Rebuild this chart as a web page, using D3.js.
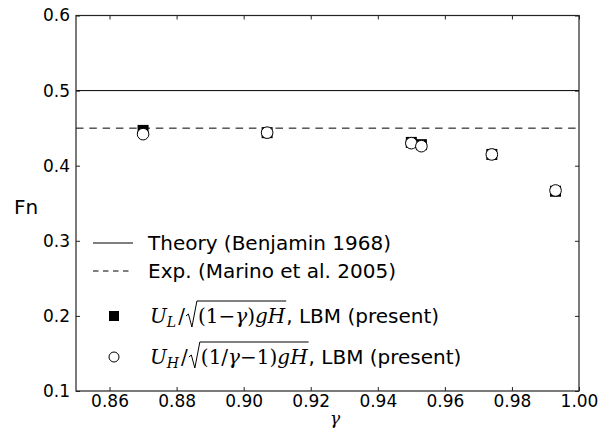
<!DOCTYPE html>
<html><head><meta charset="utf-8">
<script src="https://cdn.jsdelivr.net/npm/d3@7"></script>
<style>
html,body{margin:0;padding:0;background:#fff;}
svg{display:block;}
</style></head>
<body>
<svg id="chart" width="612" height="430"></svg>
<script>
const gamma = [0.870, 0.907, 0.950, 0.953, 0.974, 0.993];
const fnL   = [0.447, 0.444, 0.431, 0.428, 0.415, 0.366];
const fnH   = [0.442, 0.444, 0.430, 0.426, 0.415, 0.367];
const theoryFn = 0.5;
const expFn = 0.45;
const xTicks = [0.86, 0.88, 0.90, 0.92, 0.94, 0.96, 0.98, 1.00];
const yTicks = [0.1, 0.2, 0.3, 0.4, 0.5, 0.6];
const xDomain = [0.85, 1.00];
const yDomain = [0.1, 0.6];

const svg = d3.select("#chart");
const m = {left: 76, top: 15.5, right: 33, bottom: 39};
const W = 612 - m.left - m.right, H = 430 - m.top - m.bottom;
const g = svg.append("g").attr("transform", `translate(${m.left},${m.top})`);
const x = d3.scaleLinear().domain(xDomain).range([0, W]);
const y = d3.scaleLinear().domain(yDomain).range([H, 0]);

const tickFont = "DejaVu Sans, sans-serif";
function styleAxis(sel, labels) {
  sel.select(".domain").remove();
  sel.selectAll(".tick line").attr("stroke", "#222").attr("stroke-width", 1);
  sel.selectAll(".tick text").attr("font-family", tickFont).attr("font-size", 17).attr("fill", "#000");
  if (!labels) sel.selectAll(".tick text").remove();
}
g.append("g").attr("transform", `translate(0,${H})`)
  .call(d3.axisBottom(x).tickValues(xTicks).tickFormat(d3.format(".2f")).tickSizeInner(-4).tickSizeOuter(0).tickPadding(4))
  .call(s => styleAxis(s, true));
g.append("g")
  .call(d3.axisTop(x).tickValues(xTicks).tickSizeInner(-4).tickSizeOuter(0))
  .call(s => styleAxis(s, false));
g.append("g")
  .call(d3.axisLeft(y).tickValues(yTicks).tickFormat(d3.format(".1f")).tickSizeInner(-4).tickSizeOuter(0).tickPadding(6))
  .call(s => styleAxis(s, true));
g.append("g").attr("transform", `translate(${W},0)`)
  .call(d3.axisRight(y).tickValues(yTicks).tickSizeInner(-4).tickSizeOuter(0))
  .call(s => styleAxis(s, false));

// reference lines
g.append("line").attr("x1", 0).attr("x2", W).attr("y1", y(theoryFn)).attr("y2", y(theoryFn))
  .attr("stroke", "#000").attr("stroke-width", 1);
g.append("line").attr("x1", 0).attr("x2", W).attr("y1", y(expFn)).attr("y2", y(expFn))
  .attr("stroke", "#000").attr("stroke-width", 1).attr("stroke-dasharray", "7.5,5.8");

// markers
const sq = 11, cr = 5.8;
g.selectAll("rect.sq").data(gamma).join("rect").attr("class", "sq")
  .attr("x", (d) => x(d) - sq/2).attr("y", (d, i) => y(fnL[i]) - sq/2)
  .attr("width", sq).attr("height", sq).attr("fill", "#000");
g.selectAll("circle.cr").data(gamma).join("circle").attr("class", "cr")
  .attr("cx", d => x(d)).attr("cy", (d, i) => y(fnH[i])).attr("r", cr)
  .attr("fill", "#fff").attr("stroke", "#000").attr("stroke-width", 1);

// frame
g.append("rect").attr("x", 0).attr("y", 0).attr("width", W).attr("height", H)
  .attr("fill", "none").attr("stroke", "#222").attr("stroke-width", 1.2);

// axis labels
svg.append("text").attr("x", 14).attr("y", 214).attr("font-family", tickFont).attr("font-size", 20).text("Fn");
svg.append("text").attr("x", 335).attr("y", 424).attr("text-anchor", "middle")
  .attr("font-family", "DejaVu Serif, serif").attr("font-style", "italic").attr("font-size", 17).text("γ");

// legend
const lg = svg.append("g");
const lx0 = 93, lx1 = 133, tx = 148, lfs = 20;
function plainText(xp, yp, t) {
  return lg.append("text").attr("x", xp).attr("y", yp).attr("font-family", tickFont).attr("font-size", lfs).text(t);
}
lg.append("line").attr("x1", lx0).attr("x2", lx1).attr("y1", 243).attr("y2", 243).attr("stroke", "#000");
plainText(tx, 250, "Theory (Benjamin 1968)");
lg.append("line").attr("x1", lx0).attr("x2", lx1).attr("y1", 271).attr("y2", 271).attr("stroke", "#000").attr("stroke-dasharray", "5.5,4.5");
plainText(tx, 278, "Exp. (Marino et al. 2005)");
lg.append("rect").attr("x", 109).attr("y", 311).attr("width", 10).attr("height", 10).attr("fill", "#000");
lg.append("circle").attr("cx", 114).attr("cy", 357).attr("r", 5).attr("fill", "#fff").attr("stroke", "#000");

const mathFont = "DejaVu Serif, serif";
function mathLabel(baseline, sub, inner) {
  let cx = 150;
  function put(t, opts) {
    const el = lg.append("text").attr("x", cx).attr("y", baseline + (opts.dy || 0))
      .attr("font-family", opts.font || mathFont).attr("font-size", opts.size || 20)
      .attr("font-style", opts.italic ? "italic" : "normal").text(t);
    cx += el.node().getComputedTextLength() + (opts.after || 0);
    return el;
  }
  put("U", {italic: true, size: 20});
  put(sub, {italic: true, size: 14, dy: 4, after: 2});
  put("/", {italic: false, size: 20, after: 1});
  // radical
  const rx = cx, top = baseline - 22;
  cx += 12;
  inner.forEach(p => put(p.t, {italic: p.i, size: 20}));
  const endInner = cx + 1;
  lg.append("path").attr("d",
      `M${rx},${baseline-7} L${rx+2.5},${baseline-9} L${rx+6},${baseline+4} L${rx+11},${top} L${endInner},${top}`)
    .attr("fill", "none").attr("stroke", "#000").attr("stroke-width", 1);
  cx = endInner;
  put(", LBM (present)", {font: tickFont, size: lfs});
}
mathLabel(323, "L", [{t: "(1", i: false}, {t: "−", i: false}, {t: "γ", i: true}, {t: ")", i: false}, {t: "gH", i: true}]);
mathLabel(364, "H", [{t: "(1/", i: false}, {t: "γ", i: true}, {t: "−1)", i: false}, {t: "gH", i: true}]);
</script>
</body></html>
